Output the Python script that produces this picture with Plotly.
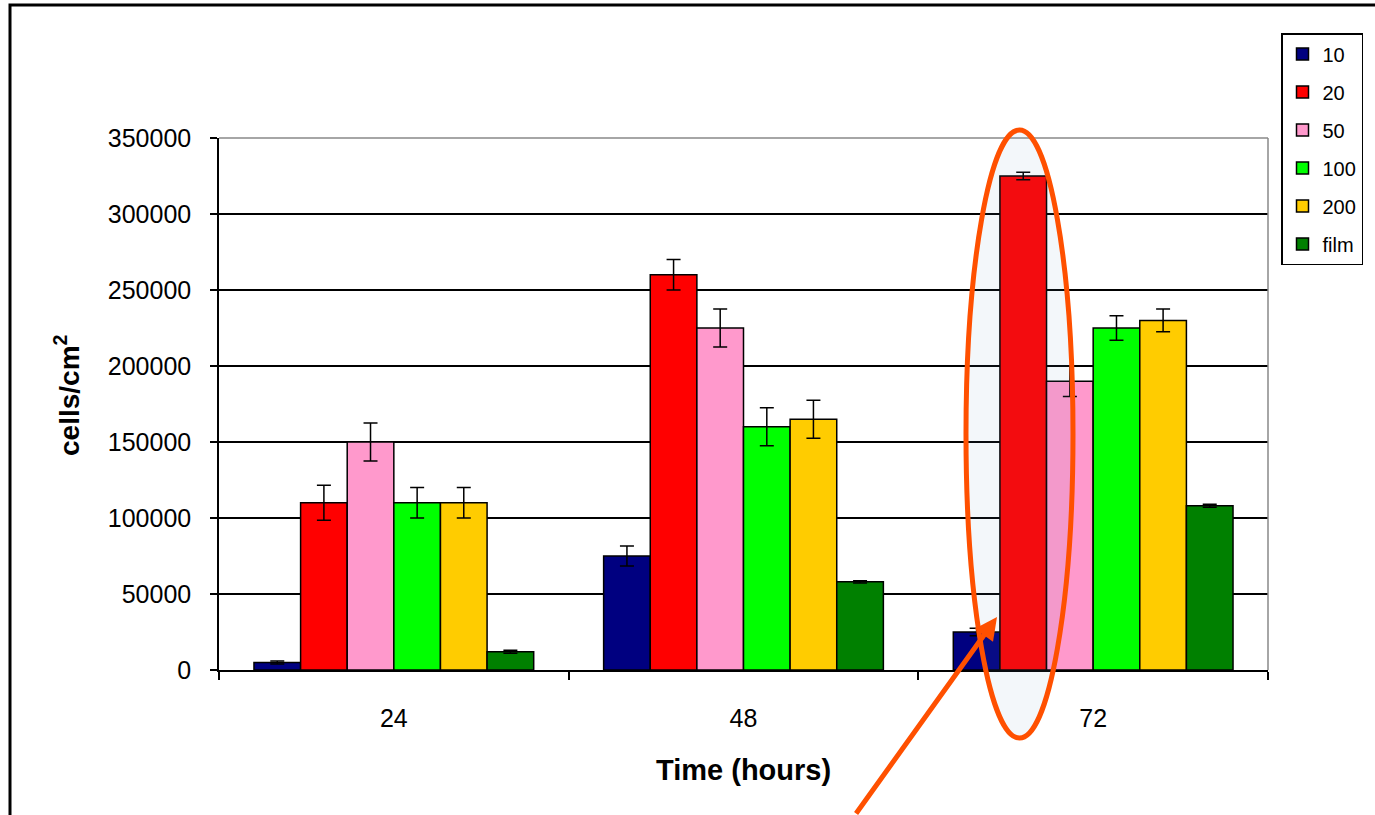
import plotly.graph_objects as go

# ---- data ----
time_labels = ["24", "48", "72"]
series_names = ["10", "20", "50", "100", "200", "film"]
val_10 = [5000, 75000, 25000]
val_20 = [110000, 260000, 325000]
val_50 = [150000, 225000, 190000]
val_100 = [110000, 160000, 225000]
val_200 = [110000, 165000, 230000]
val_film = [12000, 58000, 108000]
err_10 = [1000, 6500, 2500]
err_20 = [11500, 10000, 2500]
err_50 = [12500, 12500, 10000]
err_100 = [10000, 12500, 8000]
err_200 = [10000, 12500, 7500]
err_film = [1000, 700, 1000]
colors = ["#000080", "#FF0000", "#FF99CC", "#00FF00", "#FFCC00", "#008000"]
y_ticks = [0, 50000, 100000, 150000, 200000, 250000, 300000, 350000]

values = [val_10, val_20, val_50, val_100, val_200, val_film]
errors = [err_10, err_20, err_50, err_100, err_200, err_film]

FONT = "Liberation Sans, Arial, sans-serif"
W, H = 1375, 815
# plot area in screen pixels
PL, PR, PT, PB = 219, 1268, 138, 670
L, T = PL, PT
R, B = W - PR, H - PB
pw, ph = PR - PL, PB - PT


def px(x):
    return (x - PL) / pw


def py(y):
    return (PB - y) / ph


fig = go.Figure()
for name, v, e, c in zip(series_names, values, errors, colors):
    fig.add_trace(go.Bar(
        name=name, x=time_labels, y=v, legendgroup=name,
        marker=dict(color=c, line=dict(color="black", width=1.5)),
        error_y=dict(type="data", array=e, visible=True, color="black",
                     thickness=1.5, width=7),
    ))

fig.update_layout(
    width=W, height=H,
    margin=dict(l=L, r=R, t=T, b=B, autoexpand=False),
    paper_bgcolor="white", plot_bgcolor="white",
    barmode="group", bargap=0.2, bargroupgap=0,
    font=dict(family=FONT, color="black"),
    legend=dict(
        x=px(1281), y=py(33), xanchor="left", yanchor="top",
        bordercolor="black", borderwidth=1.5, bgcolor="white",
        font=dict(size=20, family=FONT), tracegroupgap=9,
        traceorder="grouped", itemwidth=30,
    ),
    showlegend=True,
)

fig.update_xaxes(
    type="category", showgrid=False, showline=True, linecolor="black", linewidth=1.5,
    ticks="outside", tickson="boundaries", ticklen=8, tickcolor="black", tickwidth=1.5,
    tickfont=dict(size=25, family=FONT), ticklabelstandoff=25,
)
fig.update_yaxes(
    range=[0, 350000], tickvals=y_ticks, ticktext=[str(t) for t in y_ticks],
    showgrid=True, gridcolor="black", gridwidth=1.5,
    showline=True, linecolor="black", linewidth=1.5, zeroline=False,
    ticks="outside", ticklen=7, tickcolor="black", tickwidth=1.5,
    tickfont=dict(size=25, family=FONT), ticklabelstandoff=14,
)

shapes = [
    # gray plot-area border top/right
    dict(type="line", xref="paper", yref="paper", x0=0, x1=1, y0=1, y1=1,
         line=dict(color="#888888", width=1.5), layer="above"),
    dict(type="line", xref="paper", yref="paper", x0=1, x1=1, y0=0, y1=1,
         line=dict(color="#888888", width=1.5), layer="above"),
    # outer chart frame
    dict(type="rect", xref="paper", yref="paper", x0=px(10), x1=px(1400),
         y0=py(840), y1=py(5), line=dict(color="black", width=3),
         fillcolor="rgba(0,0,0,0)", layer="below"),
    # highlight ellipse
    dict(type="circle", xref="paper", yref="paper", x0=px(966), x1=px(1073),
         y0=py(738), y1=py(130), line=dict(color="rgb(255,80,0)", width=5),
         fillcolor="rgba(103,154,192,0.08)", layer="above"),
]
fig.update_layout(shapes=shapes)

annotations = [
    dict(text="<b>Time (hours)</b>", xref="paper", yref="paper",
         x=px(743), y=py(770), xanchor="center", yanchor="middle",
         showarrow=False, font=dict(size=29, family=FONT)),
    dict(text="<b>cells/cm<sup>2</sup></b>", xref="paper", yref="paper",
         x=px(67), y=py(395), xanchor="center", yanchor="middle", textangle=-90,
         showarrow=False, font=dict(size=28, family=FONT)),
    dict(text="", xref="paper", yref="paper", x=px(997), y=py(617),
         showarrow=True, arrowhead=2, arrowsize=0.9, arrowwidth=5,
         arrowcolor="rgb(255,80,0)", ax=-142, ay=205, axref="pixel", ayref="pixel",
         standoff=0),
]
fig.update_layout(annotations=annotations)

fig.write_html("out.html", config={"displayModeBar": False},
               post_script="document.body.style.margin='0px';")
